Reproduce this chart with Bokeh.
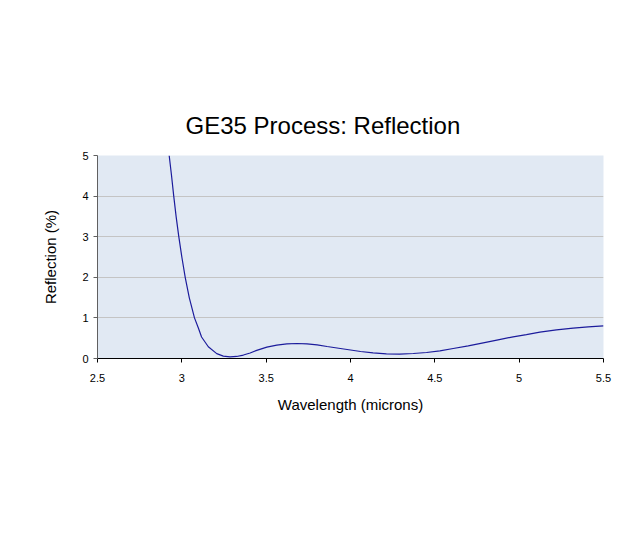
from bokeh.plotting import figure
from bokeh.models import FixedTicker, NumeralTickFormatter, Range1d
from bokeh.embed import file_html
from bokeh.resources import INLINE

# Data
wavelength = [2.925, 2.939, 2.952, 2.966, 2.982, 3.000, 3.020, 3.044, 3.075, 3.098,
              3.117, 3.157, 3.207, 3.246, 3.286, 3.325, 3.365, 3.405, 3.444, 3.504,
              3.563, 3.623, 3.683, 3.742, 3.802, 3.861, 3.940, 4.060, 4.134, 4.213,
              4.292, 4.372, 4.451, 4.530, 4.609, 4.698, 4.787, 4.875, 4.964, 5.043,
              5.123, 5.221, 5.320, 5.409, 5.500]
reflection = [5.00, 4.50, 4.00, 3.50, 3.00, 2.50, 2.00, 1.50, 1.00, 0.75,
              0.53, 0.29, 0.12, 0.06, 0.04, 0.05, 0.085, 0.135, 0.20, 0.28,
              0.33, 0.36, 0.369, 0.36, 0.336, 0.295, 0.246, 0.172, 0.14, 0.115,
              0.107, 0.123, 0.148, 0.189, 0.246, 0.311, 0.385, 0.459, 0.533, 0.59,
              0.648, 0.705, 0.746, 0.779, 0.803]
x_ticks = [2.5, 3.0, 3.5, 4.0, 4.5, 5.0, 5.5]
y_ticks = [0, 1, 2, 3, 4, 5]

FONT = "Liberation Sans"

p = figure(width=614, height=524, output_backend="svg", toolbar_location=None,
           x_range=Range1d(2.5, 5.5), y_range=Range1d(0, 5),
           title="GE35 Process: Reflection")
p.min_border_left = 97
p.min_border_right = 11
p.min_border_top = 155
p.min_border_bottom = 166

p.background_fill_color = "#E1E9F3"
p.border_fill_color = "white"
p.outline_line_color = None

p.title.text_font = FONT
p.title.text_font_size = "24px"
p.title.text_font_style = "normal"
p.title.text_color = "black"
p.title.align = "left"
p.title.offset = 88
p.title.standoff = 34

p.line(wavelength, reflection, line_color="#1C1C9C", line_width=1.2)

p.xgrid.visible = False
p.ygrid.grid_line_color = "#C4C4C4"
p.ygrid.grid_line_width = 1

xa = p.xaxis[0]
xa.ticker = FixedTicker(ticks=x_ticks)
xa.formatter = NumeralTickFormatter(format="0.[0]")
xa.axis_label = "Wavelength (microns)"
xa.axis_line_color = "black"
xa.major_tick_line_color = "black"
xa.major_tick_out = 4
xa.major_tick_in = 0
xa.minor_tick_line_color = None
xa.major_label_standoff = 11
xa.axis_label_standoff = 11

ya = p.yaxis[0]
ya.ticker = FixedTicker(ticks=y_ticks)
ya.axis_label = "Reflection (%)"
ya.axis_line_color = "#606060"
ya.major_tick_line_color = "#606060"
ya.major_tick_out = 4
ya.major_tick_in = 0
ya.minor_tick_line_color = None
ya.major_label_standoff = 5
ya.axis_label_standoff = 20

for ax in (xa, ya):
    ax.major_label_text_font = FONT
    ax.major_label_text_font_size = "11px"
    ax.major_label_text_color = "black"
    ax.axis_label_text_font = FONT
    ax.axis_label_text_font_size = "15px"
    ax.axis_label_text_font_style = "normal"
    ax.axis_label_text_color = "black"

open("out.html", "w").write(file_html(p, INLINE))
